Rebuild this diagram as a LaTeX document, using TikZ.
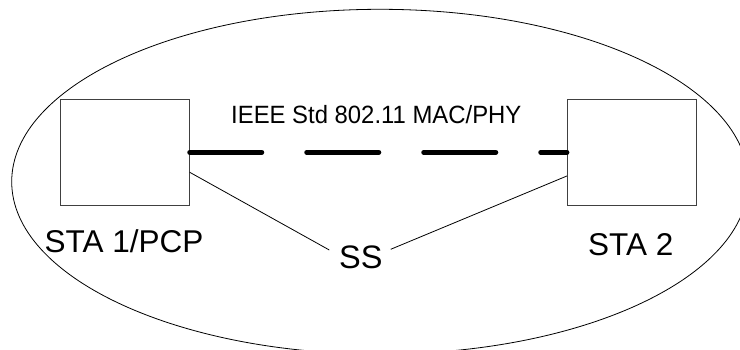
\documentclass[tikz,border=0pt]{standalone}
\usepackage{fontspec}
\setmainfont{Liberation Sans}
\begin{document}
\begin{tikzpicture}[x=1pt,y=-1pt,
  stabox/.style={draw=black!75,line width=0.8pt,minimum width=129.4pt,minimum height=106pt,inner sep=0pt},
  lbl/.style={inner sep=0pt,anchor=base west},
  thin/.style={draw=black,line width=0.8pt},
  air/.style={draw=black,line width=5pt,line cap=round,dash pattern=on 72pt off 45pt}]
\useasboundingbox (0,0) rectangle (740,350);
\draw[black,line width=0.8pt] (380,181.7) ellipse [x radius=368.3pt, y radius=172.4pt];
\node[stabox] (b1) at (124.65,152.3) {};
\node[stabox] (b2) at (632,152.3) {};
\node[lbl,font=\fontsize{31.5}{36}\selectfont] (t1) at (44.5,253) {STA 1/PCP};
\node[lbl,font=\fontsize{31.5}{36}\selectfont] (t2) at (588,255) {STA 2};
\node[lbl,font=\fontsize{32.5}{38}\selectfont] (ss) at (339,268.3) {SS};
\node[lbl,font=\fontsize{25}{30}\selectfont,xscale=0.955] (ieee) at (231,123.3) {IEEE Std 802.11 MAC/PHY};
\coordinate (ssl) at (329.3,250);
\coordinate (ssr) at (390.7,249.3);
\draw[air] (b1.east) -- (b2.west);
\draw[thin] ([yshift=-20pt]b1.east) -- (ssl);
\draw[thin] (ssr) -- ([yshift=-23.7pt]b2.west);
\end{tikzpicture}
\end{document}
